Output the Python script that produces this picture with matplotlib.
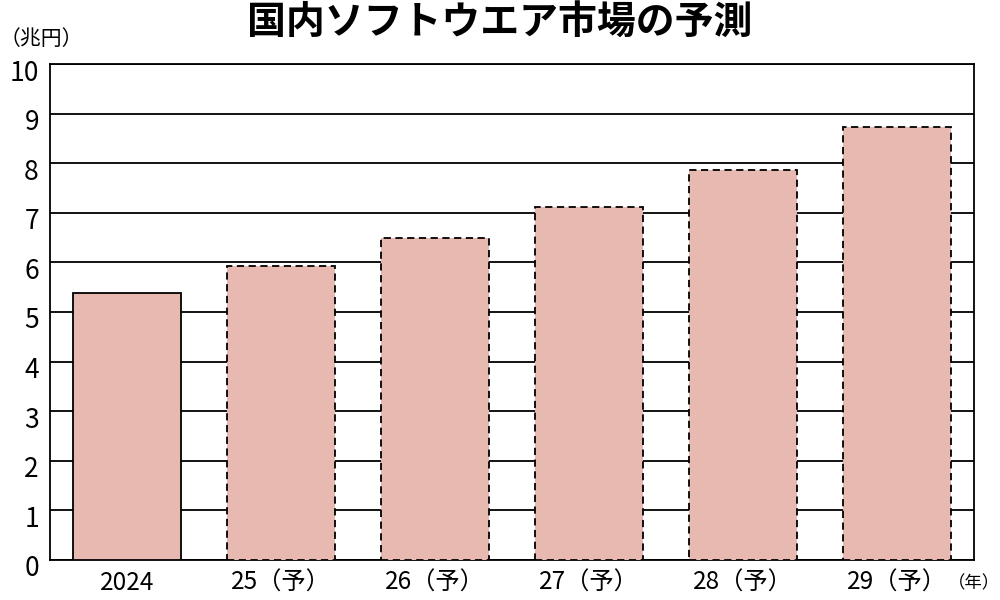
import matplotlib
matplotlib.use("Agg")
import matplotlib.pyplot as plt
from matplotlib.transforms import ScaledTranslation

plt.rcParams['font.family'] = ['Noto Sans CJK JP', 'DejaVu Sans']

categories = ["2024", "25（予）", "26（予）", "27（予）", "28（予）", "29（予）"]
values = [5.38, 5.93, 6.49, 7.12, 7.86, 8.73]
forecast = [False, True, True, True, True, True]
yticks = list(range(0, 11))

fill = "#E8B9B1"

fig = plt.figure(figsize=(10, 6), dpi=100)
ax = fig.add_axes([0.05, 0.0667, 0.924, 0.8266])

x = list(range(len(categories)))
for xi, v, f in zip(x, values, forecast):
    ax.bar(xi, v, width=0.7, color=fill, edgecolor="black",
           linewidth=1.3, linestyle=(0, (4, 2.5)) if f else "-", zorder=3)

ax.set_xlim(-0.5, len(categories) - 0.5)
ax.set_ylim(0, 10)
ax.set_yticks(yticks)
ax.set_xticks(x)
ax.set_xticklabels(categories)
ax.yaxis.grid(True, color="black", linewidth=1.3, zorder=0)
ax.set_axisbelow(True)
ax.tick_params(axis="y", length=0, labelsize=19, pad=8)
ax.tick_params(axis="x", length=0, labelsize=17.5, pad=7)
for s in ax.spines.values():
    s.set_linewidth(1.3)
    s.set_color("black")

off = ScaledTranslation(0, -0.06, fig.dpi_scale_trans)
for lab in ax.get_yticklabels():
    lab.set_transform(lab.get_transform() + off)

fig.text(0.5, 0.962, "国内ソフトウエア市場の予測", ha="center", va="center",
         fontsize=28, fontweight="bold")
fig.text(0.0, 0.935, "（兆円）", ha="left", va="center", fontsize=15)
fig.text(1.0, 0.028, "（年）", ha="right", va="center", fontsize=12.5)

fig.savefig("out.png", dpi=100)
